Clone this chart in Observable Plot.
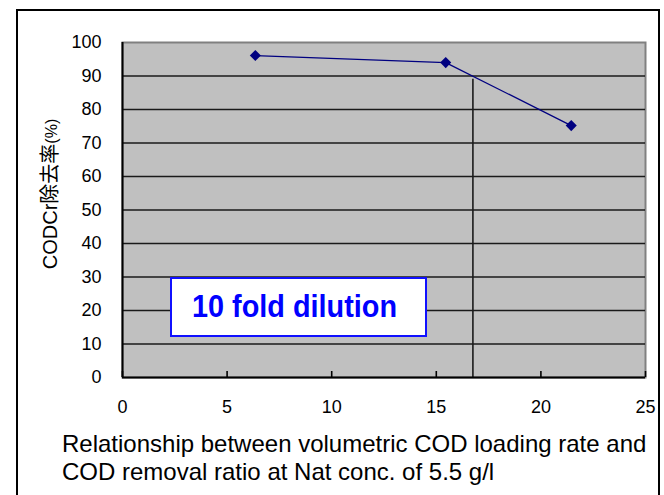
<!DOCTYPE html>
<html>
<head>
<meta charset="utf-8">
<script src="https://cdn.jsdelivr.net/npm/d3@7"></script>
<script src="https://cdn.jsdelivr.net/npm/@observablehq/plot@0.6"></script>
<style>
  html, body { margin: 0; padding: 0; background: #fff; }
  #wrap { position: relative; width: 664px; height: 495px; overflow: hidden; font-family: "Liberation Sans", Arial, "Noto Sans CJK JP", sans-serif; }
  #chart { position: absolute; left: 0; top: 0; }
  #outer { position: absolute; left: 16px; top: 9px; width: 640px; height: 520px; border: 2px solid #000; pointer-events: none; }
  #ylabel { position: absolute; left: 51px; top: 194px; width: 0; height: 0; }
  #ylabel span { position: absolute; left: 0; top: 0; transform: translate(-50%, -50%) rotate(-90deg); white-space: nowrap; font-size: 20px; line-height: 22px; color: #000; font-family: "Liberation Sans", Arial, "Noto Sans CJK JP", sans-serif; }
  #ylabel small { font-size: 16px; }
  #note { position: absolute; left: 170px; top: 277px; width: 253px; height: 56px; border: 2px solid #1010ff; background: #fff; box-sizing: content-box; }
  #note span { position: absolute; left: 20px; top: 10px; font-size: 31px; font-weight: bold; color: #0000ff; white-space: nowrap; line-height: 36px; transform: scaleX(0.93); transform-origin: 0 50%; }
  #caption { position: absolute; left: 62px; top: 430px; font-size: 24px; line-height: 28px; color: #000; white-space: nowrap; }
</style>
</head>
<body>
<div id="wrap">
  <div id="chart"></div>
  <div id="outer"></div>
  <div id="ylabel"><span>CODCr除去率<small>(%)</small></span></div>
  <div id="note"><span>10 fold dilution</span></div>
  <div id="caption">Relationship between volumetric COD loading rate and<br>COD removal ratio at Nat conc. of 5.5 g/l</div>
</div>
<script>
// Data
const loadingRate = [6.35, 15.45, 21.45];
const removalRatio = [96.1, 94.0, 75.2];
const xTicks = [0, 5, 10, 15, 20, 25];
const yTicks = [0, 10, 20, 30, 40, 50, 60, 70, 80, 90, 100];
const gridY = [10, 20, 30, 40, 50, 60, 70, 80, 90];
const refLineX = [16.75];
const refLineTop = [89];

const points = loadingRate.map((x, i) => ({x, y: removalRatio[i]}));
const refLines = refLineX.map((x, i) => ({x, top: refLineTop[i]}));

const chart = Plot.plot({
  width: 664,
  height: 495,
  marginLeft: 122,
  marginRight: 19,
  marginTop: 42,
  marginBottom: 118,
  style: {fontFamily: "'Liberation Sans', Arial, sans-serif", background: "transparent", color: "#000"},
  x: {domain: [0, 25]},
  y: {domain: [0, 100]},
  marks: [
    Plot.frame({fill: "#c0c0c0", stroke: "#808080", strokeWidth: 2}),
    Plot.ruleY(gridY, {stroke: "#1a1a1a", strokeWidth: 1.6}),
    Plot.ruleX(refLines, {x: "x", y1: 0, y2: "top", stroke: "#1a1a1a", strokeWidth: 1.6}),
    Plot.ruleX([0], {stroke: "#000", strokeWidth: 2}),
    Plot.ruleY([0], {stroke: "#000", strokeWidth: 2}),
    Plot.tickX(xTicks, {x: d => d, insetTop: 329, stroke: "#000", strokeWidth: 1.6}),
    Plot.axisY({ticks: yTicks, tickSize: 0, tickPadding: 21, fontSize: 18, label: null}),
    Plot.axisX({ticks: xTicks, tickSize: 0, tickPadding: 23, fontSize: 18, label: null}),
    Plot.line(points, {x: "x", y: "y", stroke: "#000080", strokeWidth: 1.3}),
    Plot.dot(points, {x: "x", y: "y", symbol: "diamond2", r: 5, fill: "#000080", stroke: "none"})
  ]
});
document.getElementById("chart").appendChild(chart);
</script>
</body>
</html>
